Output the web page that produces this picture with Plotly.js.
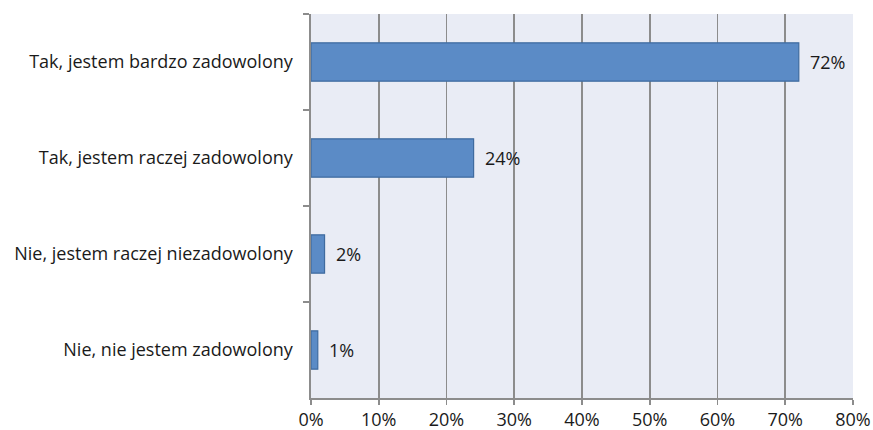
<!DOCTYPE html>
<html><head><meta charset="utf-8">
<script src="https://cdn.plot.ly/plotly-3.0.1.min.js"></script>
<style>html,body{margin:0;padding:0;background:#fff}</style>
</head><body>
<div id="chart" style="width:873px;height:430px"></div>
<script>
var categories = ["Tak, jestem bardzo zadowolony", "Tak, jestem raczej zadowolony", "Nie, jestem raczej niezadowolony", "Nie, nie jestem zadowolony"];
var values = [72, 24, 2, 1];
var labels = ["72%", "24%", "2%", "1%"];
var xTicks = [0, 10, 20, 30, 40, 50, 60, 70, 80];
var xTickLabels = ["0%", "10%", "20%", "30%", "40%", "50%", "60%", "70%", "80%"];

var fontFam = "Open Sans, Liberation Sans, sans-serif";
var trace = {
  type: "bar", orientation: "h",
  x: values, y: categories,
  marker: {color: "#5b8bc6", line: {color: "#3f6b9f", width: 1.2}},
  width: 0.4,
  hoverinfo: "none"
};
var annotations = values.map(function(v, i){
  return {x: v, y: categories[i], xref: "x", yref: "y", text: labels[i],
    showarrow: false, xanchor: "left", xshift: 9,
    font: {family: fontFam, size: 18, color: "#1a1a1a"}};
});
var layout = {
  width: 873, height: 430,
  margin: {l: 311, r: 20, t: 14, b: 32},
  paper_bgcolor: "#ffffff", plot_bgcolor: "#e9ecf5",
  showlegend: false,
  font: {family: fontFam, size: 18, color: "#1a1a1a"},
  xaxis: {range: [0, 80], tickvals: xTicks, ticktext: xTickLabels,
    showgrid: true, gridcolor: "#8c8c8c", gridwidth: 1.6,
    zeroline: false, showline: true, linecolor: "#8c8c8c", linewidth: 1.6,
    ticks: "outside", ticklen: 5, tickcolor: "#8c8c8c", tickwidth: 1.6,
    tickfont: {family: fontFam, size: 18, color: "#1a1a1a"}, fixedrange: true},
  yaxis: {autorange: "reversed", type: "category",
    showgrid: false, zeroline: false, showline: true, linecolor: "#8c8c8c", linewidth: 1.6,
    ticks: "outside", tickson: "boundaries", ticklen: 6, tickcolor: "#8c8c8c", tickwidth: 1.6,
    ticklabelstandoff: 13,
    tickfont: {family: fontFam, size: 18, color: "#1a1a1a"}, fixedrange: true},
  annotations: annotations
};
Plotly.newPlot("chart", [trace], layout, {displayModeBar: false, staticPlot: true});
</script>
</body></html>
